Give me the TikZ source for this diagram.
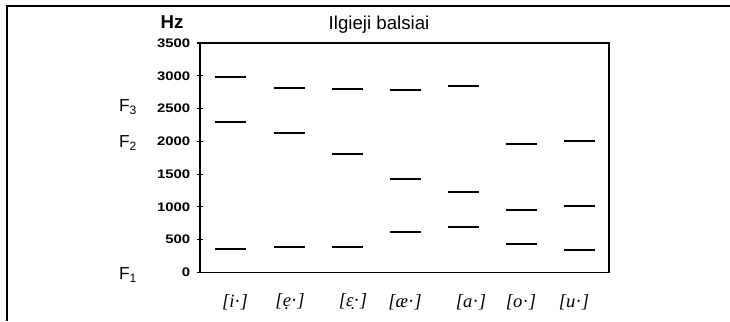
\documentclass[tikz,border=0pt]{standalone}
\usepackage{fontspec}
\setmainfont{Liberation Serif}
\newfontfamily\numfont[FakeStretch=1.2]{Liberation Sans}
\newfontfamily\labfont{Liberation Sans}
\begin{document}
\begin{tikzpicture}[x=0.75pt,y=-0.75pt,
  frameline/.style={line width=1.7pt,black},
  boxline/.style={line width=0.8pt,black},
  tickline/.style={line width=0.8pt,black},
  fbar/.style={line width=1.6pt,black},
  ylab/.style={anchor=east,inner sep=0pt,font=\numfont\bfseries\fontsize{9.3}{11}\selectfont},
  flab/.style={anchor=center,inner sep=0pt,font=\labfont\fontsize{13}{15}\selectfont},
  vlab/.style={anchor=center,inner sep=0pt,font=\itshape\fontsize{14}{16}\selectfont}]
\useasboundingbox (0,0) rectangle (730,321);
% outer frame
\coordinate (fbl) at (7,321);
\coordinate (ftl) at (7,6);
\coordinate (ftr) at (730,6);
\draw[frameline] (fbl) -- (ftl) -- (ftr);
% plot box
\coordinate (p0) at (200,272.5);
\coordinate (p1) at (609,43);
\draw[boxline] (p0) rectangle (p1);
\draw[line width=1.2pt] (200,272.5) -- (200,43);
% title and axis unit
\node[inner sep=0pt,font=\labfont\fontsize{14}{16}\selectfont] (title) at (379,25) {Ilgieji balsiai};
\node[inner sep=0pt,font=\labfont\bfseries\fontsize{14}{16}\selectfont] (hz) at (172,22) {Hz};
% y ticks and labels
\foreach \f in {0,500,...,3500}{
  \draw[tickline] (197,{272.5-0.06557*\f}) -- (203,{272.5-0.06557*\f});
  \node[ylab] (y\f) at (190.5,{272.5-0.06557*\f}) {\f};
}
% formant labels
\node[flab] (F3) at (128,107) {F\textsubscript{3}};
\node[flab] (F2) at (128,143) {F\textsubscript{2}};
\node[flab] (F1) at (128,275) {F\textsubscript{1}};
% formant bars
\foreach \x/\a/\b/\c in {230/76.7/122.3/249.3, 289/88.3/133.3/247, 347/89.3/154.3/246.7,
  405/90/179.3/232.3, 463/86/191.7/226.7, 521/144.3/210/244, 579/141.3/206/250.3}{
  \draw[fbar] ({\x-15.5},\a) -- ({\x+15.5},\a);
  \draw[fbar] ({\x-15.5},\b) -- ({\x+15.5},\b);
  \draw[fbar] ({\x-15.5},\c) -- ({\x+15.5},\c);
}
% vowel labels
\node[vlab] (vi) at (235,302) {[i\textup{·}]};
\node[vlab] (ve) at (290,302) {[ẹ\textup{·}]};
\node[vlab] (veps) at (353,302) {[ɛ̣\textup{·}]};
\node[vlab] (vae) at (405,302) {[æ\textup{·}]};
\node[vlab] (va) at (471,302) {[a\textup{·}]};
\node[vlab] (vo) at (521,302) {[o\textup{·}]};
\node[vlab] (vu) at (574,302) {[u\textup{·}]};
\end{tikzpicture}
\end{document}
